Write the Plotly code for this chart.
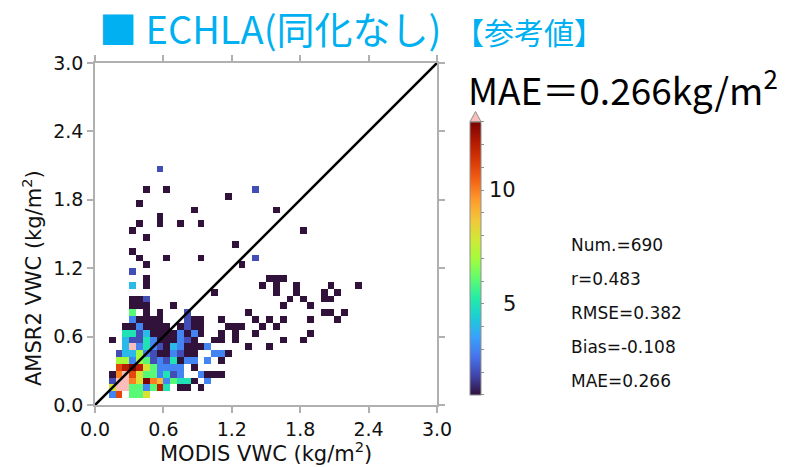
import numpy as np
import plotly.graph_objects as go

# ---- binning of the MODIS / AMSR2 vegetation water content pairs ----
BIN = 0.06          # kg/m2 per bin
NBIN = 50           # 0.0 - 3.0 on both axes

# Dense core: pair counts per bin, rows = AMSR2 bins j=1..15, columns = MODIS bins i=0..22
core_j = list(range(1, 16))
core_counts = [
    # i: 0 1 2  3  4  5  6  7  8  9 10 11 12 13 14 15 16 17 18 19 20 21 22
    [0, 0, 3, 11, 0, 6, 6, 8, 0, 0, 0, 0, 0, 0, 0, 0, 0, 0, 0, 0, 0, 0, 0],   # j=1
    [0, 0, 8, 16, 15, 6, 6, 3, 6, 12, 5, 0, 1, 1, 0, 1, 0, 0, 0, 0, 0, 0, 0],  # j=2
    [0, 0, 2, 18, 17, 10, 8, 13, 10, 9, 3, 6, 5, 5, 1, 0, 3, 0, 0, 0, 0, 0, 0],  # j=3
    [0, 0, 1, 10, 16, 11, 8, 6, 6, 3, 5, 2, 3, 0, 0, 3, 1, 1, 1, 0, 0, 0, 0],  # j=4
    [0, 0, 0, 11, 12, 13, 12, 8, 6, 3, 3, 3, 3, 0, 1, 0, 0, 0, 0, 0, 0, 0, 0],  # j=5
    [0, 0, 0, 7, 7, 3, 7, 6, 2, 3, 2, 5, 1, 3, 3, 0, 3, 0, 1, 0, 0, 0, 0],   # j=6
    [0, 0, 0, 2, 4, 4, 7, 3, 2, 1, 1, 3, 2, 1, 1, 0, 0, 3, 3, 1, 0, 0, 0],   # j=7
    [0, 0, 0, 0, 4, 15, 3, 5, 3, 2, 1, 4, 3, 1, 1, 1, 3, 0, 0, 0, 0, 0, 0],  # j=8
    [0, 0, 1, 0, 4, 2, 2, 5, 3, 1, 1, 1, 3, 2, 1, 0, 0, 1, 1, 0, 0, 0, 0],   # j=9
    [0, 0, 0, 0, 5, 5, 2, 4, 1, 1, 1, 1, 3, 1, 3, 1, 0, 0, 1, 0, 0, 0, 0],   # j=10
    [0, 0, 0, 0, 1, 1, 3, 1, 1, 1, 1, 0, 1, 2, 1, 1, 0, 0, 0, 0, 0, 0, 0],   # j=11
    [0, 0, 0, 0, 0, 3, 1, 1, 1, 1, 0, 0, 0, 2, 1, 1, 0, 0, 1, 0, 0, 0, 0],   # j=12
    [0, 0, 0, 0, 0, 6, 0, 1, 0, 1, 0, 0, 0, 2, 0, 0, 0, 0, 0, 0, 0, 0, 0],   # j=13
    [0, 0, 0, 0, 0, 1, 1, 1, 0, 0, 0, 1, 0, 0, 0, 0, 0, 0, 0, 0, 0, 0, 0],   # j=14
    [0, 0, 0, 0, 0, 1, 1, 2, 0, 0, 0, 0, 0, 0, 0, 0, 0, 0, 0, 0, 0, 0, 0],   # j=15
]

# Scattered bins outside the core (MODIS bin, AMSR2 bin, count)
sparse_i = [17, 5, 7, 7,
            9, 7, 10, 6, 14, 19, 23, 26, 6, 9, 9, 12, 15, 5, 30, 7, 20, 5, 6, 10, 15, 23, 7, 21, 5,
            25, 26, 27, 26, 26, 24, 29, 29, 28, 27, 30, 31, 34, 33, 35, 33, 34, 38, 33, 34,
            36, 35, 22, 23, 25, 27, 31, 24, 26, 23, 31, 20, 21, 19, 20, 20, 27, 30, 22, 25]
sparse_j = [16, 17, 17, 18,
            34, 31, 31, 29, 28, 30, 31, 28, 26, 27, 26, 26, 26, 25, 25, 24, 23, 22, 21, 21, 21, 21, 20, 20, 19,
            18, 18, 18, 17, 16, 17, 17, 16, 15, 14, 15, 14, 17, 16, 16, 15, 15, 17, 13, 13,
            13, 12, 13, 12, 12, 12, 12, 11, 11, 10, 10, 11, 11, 11, 10, 9, 9, 9, 8, 8]
sparse_n = [1, 4, 1, 1,
            2, 1, 1, 1, 1, 1, 2, 1, 1, 1, 1, 1, 1, 1, 1, 1, 1, 1, 1, 1, 1, 2, 1, 1, 2,
            1, 1, 1, 1, 1, 1, 1, 1, 1, 1, 1, 1, 1, 1, 1, 1, 1, 1, 1, 1,
            1, 1, 1, 1, 1, 1, 1, 1, 1, 1, 1, 1, 1, 1, 1, 1, 1, 1, 1, 1]

stat_lines = ["r=0.483", "RMSE=0.382", "Bias=-0.108", "MAE=0.266"]
axis_ticks = [0.0, 0.6, 1.2, 1.8, 2.4, 3.0]
cbar_min, cbar_max = 1, 13
cbar_labels = [5, 10]

# ---- assemble the 2-D histogram ----
grid = np.zeros((NBIN, NBIN))
for row, j in zip(core_counts, core_j):
    for i, n in enumerate(row):
        grid[j, i] += n
for i, j, n in zip(sparse_i, sparse_j, sparse_n):
    grid[j, i] += n
total = int(grid.sum())

centers = (np.arange(NBIN) + 0.5) * BIN
z_main = np.where((grid > 0) & (grid <= cbar_max), grid, np.nan)
z_over = np.where(grid > cbar_max, grid, np.nan)

# ---- geometry helpers (plot area is 342 x 342 px, left=95, top=63) ----
L, T, S = 95, 63, 342
W, H = 794, 467


def px(x):
    return (x - L) / S


def py(y):
    return (T + S - y) / S


FONT = "DejaVu Sans"
OVER = "#fbbcbc"
GRAY = "#b0b0b0"
CB_TOP, CB_BOT = 121.7, 395.0

fig = go.Figure()
fig.add_trace(go.Heatmap(
    x=centers, y=centers, z=z_main, zmin=cbar_min, zmax=cbar_max,
    colorscale="Turbo", zsmooth=False, hoverongaps=False,
    colorbar=dict(
        x=px(470), xanchor="left", xpad=0, ypad=0,
        y=py((CB_TOP + CB_BOT) / 2), yanchor="middle",
        len=CB_BOT - CB_TOP, lenmode="pixels",
        thickness=11, thicknessmode="pixels",
        outlinewidth=1, outlinecolor="#909090",
        tickmode="array", tickvals=list(range(cbar_min, cbar_max + 1)),
        showticklabels=False,
        ticks="outside", ticklen=3, tickcolor="#909090", tickwidth=1,
    ),
))
fig.add_trace(go.Heatmap(
    x=centers, y=centers, z=z_over, zsmooth=False, hoverongaps=False,
    colorscale=[[0, OVER], [1, OVER]], showscale=False,
))
fig.add_trace(go.Scatter(
    x=[0, 3], y=[0, 3], mode="lines", line=dict(color="black", width=2.6),
    showlegend=False, hoverinfo="skip",
))

axis_style = dict(
    range=[0, 3], tickmode="array", tickvals=axis_ticks,
    ticktext=[f"{v:.1f}" for v in axis_ticks],
    showline=True, linecolor=GRAY, linewidth=1.5, mirror="allticks",
    ticks="outside", ticklen=6, tickcolor=GRAY, tickwidth=1.5,
    showgrid=False, zeroline=False,
    tickfont=dict(family=FONT, size=19, color="#111"),
)
fig.update_layout(
    width=W, height=H,
    margin=dict(l=L, r=W - L - S, t=T, b=H - T - S),
    paper_bgcolor="white", plot_bgcolor="white",
    xaxis=axis_style, yaxis=axis_style,
    showlegend=False,
)

# colour-bar labels and the over-range triangle
for v in cbar_labels:
    yv = CB_BOT - (v - cbar_min) / (cbar_max - cbar_min) * (CB_BOT - CB_TOP)
    fig.add_annotation(x=px(518), y=py(yv), xref="paper", yref="paper",
                       text=str(v), showarrow=False, xanchor="right", yanchor="middle",
                       font=dict(family=FONT, size=21, color="#111"))
fig.add_shape(type="path", xref="paper", yref="paper",
              path=f"M {px(470)} {py(CB_TOP)} L {px(481)} {py(CB_TOP)} L {px(475.5)} {py(111.5)} Z",
              fillcolor=OVER, line=dict(color="#909090", width=1))

# axis titles
fig.add_annotation(x=0.5, y=py(452), xref="paper", yref="paper",
                   text="MODIS VWC (kg/m<sup>2</sup>)", showarrow=False,
                   xanchor="center", yanchor="middle",
                   font=dict(family=FONT, size=21, color="#111"))
fig.add_annotation(x=px(32), y=py(278), xref="paper", yref="paper",
                   text="AMSR2 VWC (kg/m<sup>2</sup>)", showarrow=False, textangle=-90,
                   xanchor="center", yanchor="middle",
                   font=dict(family=FONT, size=21, color="#111"))

# statistics block
for k, line in enumerate([f"Num.={total}"] + stat_lines):
    fig.add_annotation(x=px(569), y=py(245 + 34 * k), xref="paper", yref="paper",
                       text=line, showarrow=False, xanchor="left", yanchor="middle",
                       font=dict(family=FONT, size=17, color="#111"))

# headline texts
JP = "Noto Sans CJK JP"
fig.add_annotation(x=px(97), y=py(28), xref="paper", yref="paper",
                   text="■ ECHLA(同化なし)", showarrow=False, xanchor="left", yanchor="middle",
                   font=dict(family=JP, size=38, color="#00b0f0"))
fig.add_annotation(x=px(452), y=py(31), xref="paper", yref="paper",
                   text="【参考値】", showarrow=False, xanchor="left", yanchor="middle",
                   font=dict(family=JP, size=30, color="#00b0f0"))
fig.add_annotation(x=px(466), y=py(87), xref="paper", yref="paper",
                   text="MAE＝0.266kg/m<sup>2</sup>", showarrow=False, xanchor="left", yanchor="middle",
                   font=dict(family=JP, size=37, color="black"))

fig.write_html("out.html")
